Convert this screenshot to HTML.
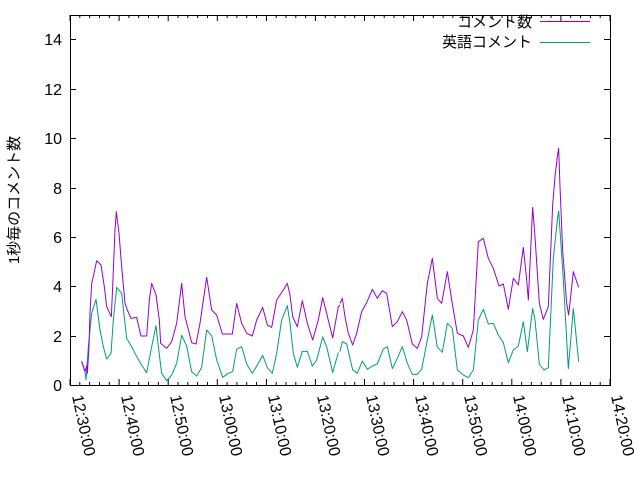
<!DOCTYPE html><html><head><style>body{margin:0;background:#fff}svg{display:block;font-family:"Liberation Sans","Noto Sans CJK JP",sans-serif}</style></head><body>
<svg width="640" height="480" viewBox="0 0 640 480">
<rect x="70.5" y="15.5" width="540" height="370" fill="none" stroke="#000"/>
<g stroke="#000">
<path d="M70 385.5h6M604 385.5h6M70 336.5h6M604 336.5h6M70 286.5h6M604 286.5h6M70 237.5h6M604 237.5h6M70 188.5h6M604 188.5h6M70 138.5h6M604 138.5h6M70 89.5h6M604 89.5h6M70 39.5h6M604 39.5h6"/>
</g>
<g font-size="16" text-anchor="end" fill="#000">
<text x="62" y="391">0</text><text x="62" y="342">2</text><text x="62" y="292">4</text><text x="62" y="243">6</text><text x="62" y="194">8</text><text x="62" y="144">10</text><text x="62" y="95">12</text><text x="62" y="45">14</text>
</g>
<g id="xt" stroke="#000"></g>
<g font-size="16" fill="#000">
<text transform="translate(72,396) rotate(78)">12:30:00</text>
<text transform="translate(121,396) rotate(78)">12:40:00</text>
<text transform="translate(170,396) rotate(78)">12:50:00</text>
<text transform="translate(219,396) rotate(78)">13:00:00</text>
<text transform="translate(268,396) rotate(78)">13:10:00</text>
<text transform="translate(317,396) rotate(78)">13:20:00</text>
<text transform="translate(366,396) rotate(78)">13:30:00</text>
<text transform="translate(415,396) rotate(78)">13:40:00</text>
<text transform="translate(464,396) rotate(78)">13:50:00</text>
<text transform="translate(513,396) rotate(78)">14:00:00</text>
<text transform="translate(562,396) rotate(78)">14:10:00</text>
<text transform="translate(611,396) rotate(78)">14:20:00</text>
</g>
<text transform="translate(19,200) rotate(-90)" font-size="15" text-anchor="middle">1秒毎のコメント数</text>
<text x="532" y="27" font-size="15" text-anchor="end">コメント数</text>
<line x1="540" y1="21.5" x2="590" y2="21.5" stroke="#9400d3"/>
<text x="532" y="47" font-size="15" text-anchor="end">英語コメント</text>
<line x1="540" y1="42.5" x2="590" y2="42.5" stroke="#009e73"/>
<g fill="none" stroke-width="1" stroke-linejoin="round">
<polyline transform="translate(70,190) scale(0.33333)" vector-effect="non-scaling-stroke" stroke="#009e73" points="35,513 45,545 48,570 55,470 65,370 78,328 90,420 100,470 110,507 123,490 130,390 140,292 155,310 170,445 185,470 200,500 215,525 230,548 245,470 258,407 265,470 275,550 290,572 305,555 320,520 335,436 350,468 365,545 380,558 395,532 410,420 425,437 440,510 458,562 475,550 488,545 500,478 515,470 530,522 547,550 565,520 578,496 592,533 607,550 620,490 635,390 652,347 660,400 670,490 682,532 697,484 712,484 727,528 740,510 758,441 770,470 788,548 805,487"/>
<polyline transform="translate(340,140) scale(0.33333)" vector-effect="non-scaling-stroke" stroke="#009e73" points="0,635 7,605 20,612 38,690 52,700 67,663 82,688 97,678 112,672 130,627 142,620 157,686 172,655 187,620 202,670 217,703 232,703 245,688 262,600 277,525 292,622 307,637 322,550 337,565 352,690 370,705 385,713 400,690 415,540 430,508 445,552 460,550 475,585 490,608 505,668 520,630 535,618 550,545 562,635 578,505 585,540 598,672 612,690 625,683 640,355 652,240 656,213 662,300 670,420 685,686 700,505 716,665"/>
<polyline transform="translate(70,190) scale(0.33333)" vector-effect="non-scaling-stroke" stroke="#9400d3" points="35,515 45,545 50,528 52,550 57,470 60,370 65,280 70,260 80,212 93,225 103,290 110,350 124,380 128,290 135,120 139,65 142,90 147,130 155,230 165,340 172,360 183,385 200,382 213,438 230,438 238,330 245,280 258,315 268,390 272,460 290,475 305,455 320,400 335,280 345,380 365,458 378,462 390,400 410,262 425,360 440,375 457,432 487,432 500,340 515,400 530,430 547,438 560,390 578,352 592,405 605,412 620,330 640,300 652,280 660,315 668,380 682,410 697,332 712,400 728,450 745,390 758,323 770,370 788,444 805,350 810,345"/>
<polyline transform="translate(340,140) scale(0.33333)" vector-effect="non-scaling-stroke" stroke="#9400d3" points="0,490 7,475 15,530 25,580 38,615 50,580 65,515 80,488 97,448 112,475 127,452 140,460 157,560 172,545 187,515 200,540 217,612 232,625 245,590 262,430 277,355 292,475 305,490 322,395 335,480 352,580 370,588 385,622 400,570 415,305 430,295 445,355 460,385 477,438 490,432 505,508 520,415 535,435 550,322 560,420 565,480 578,202 585,290 598,490 610,538 625,500 638,195 645,110 652,50 656,25 660,140 668,330 680,490 686,525 700,395 705,410 716,442"/>
</g>
<script>
var g=document.getElementById('xt'),d='';
for(var i=0;i<=55;i++){var x=(70+i*9.818).toFixed(1);var L=(i%5==0)?6:3;d+='M'+x+' 385v-'+L+'M'+x+' 15v'+L;}
var p=document.createElementNS('http://www.w3.org/2000/svg','path');p.setAttribute('d',d);g.appendChild(p);
</script>
</svg>
</body></html>
